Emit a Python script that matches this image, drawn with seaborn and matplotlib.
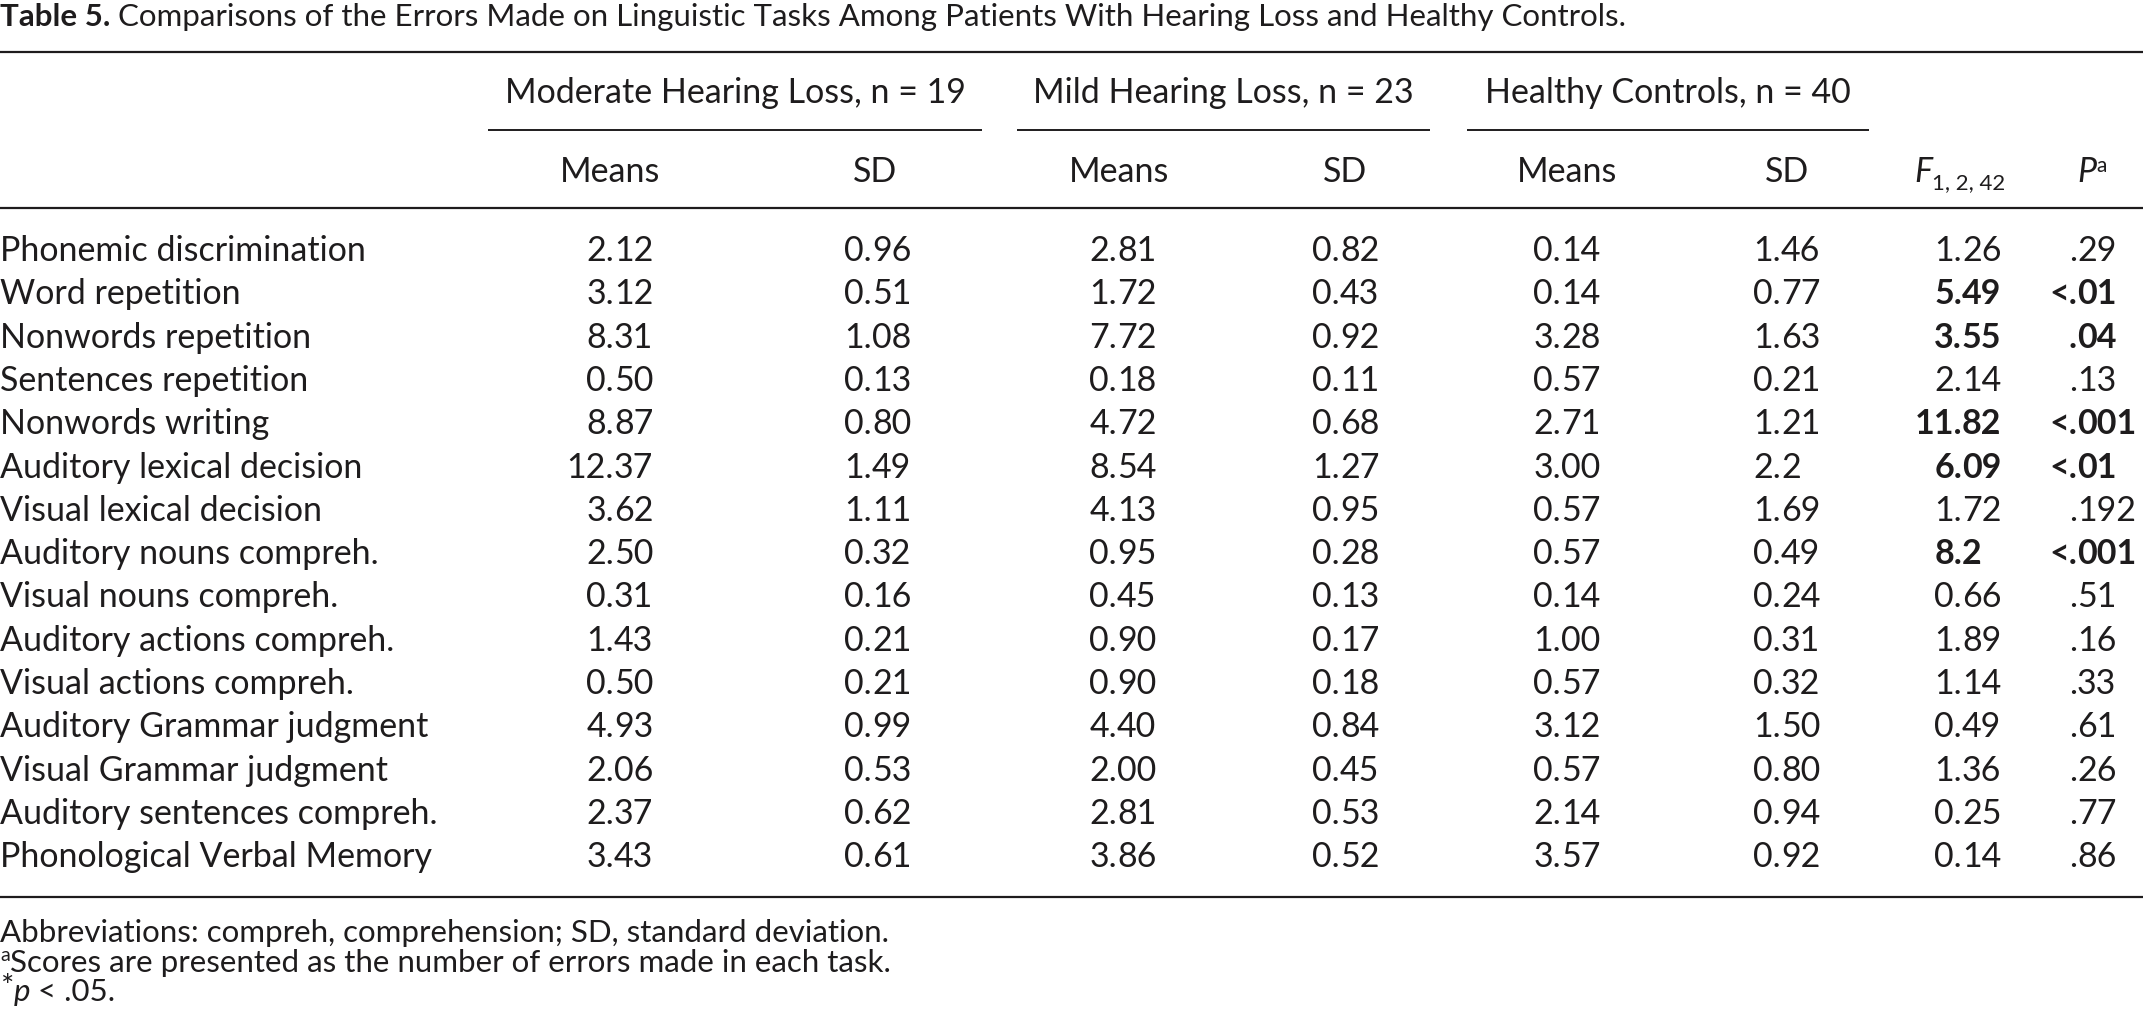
import matplotlib
matplotlib.use("Agg")
import matplotlib.pyplot as plt
import seaborn as sns

# table content
tasks = ["Phonemic discrimination", "Word repetition", "Nonwords repetition",
         "Sentences repetition", "Nonwords writing", "Auditory lexical decision",
         "Visual lexical decision", "Auditory nouns compreh.", "Visual nouns compreh.",
         "Auditory actions compreh.", "Visual actions compreh.",
         "Auditory Grammar judgment", "Visual Grammar judgment",
         "Auditory sentences compreh.", "Phonological Verbal Memory"]
mod_means = ["2.12", "3.12", "8.31", "0.50", "8.87", "12.37", "3.62", "2.50", "0.31",
             "1.43", "0.50", "4.93", "2.06", "2.37", "3.43"]
mod_sd = ["0.96", "0.51", "1.08", "0.13", "0.80", "1.49", "1.11", "0.32", "0.16",
          "0.21", "0.21", "0.99", "0.53", "0.62", "0.61"]
mild_means = ["2.81", "1.72", "7.72", "0.18", "4.72", "8.54", "4.13", "0.95", "0.45",
              "0.90", "0.90", "4.40", "2.00", "2.81", "3.86"]
mild_sd = ["0.82", "0.43", "0.92", "0.11", "0.68", "1.27", "0.95", "0.28", "0.13",
           "0.17", "0.18", "0.84", "0.45", "0.53", "0.52"]
hc_means = ["0.14", "0.14", "3.28", "0.57", "2.71", "3.00", "0.57", "0.57", "0.14",
            "1.00", "0.57", "3.12", "0.57", "2.14", "3.57"]
hc_sd = ["1.46", "0.77", "1.63", "0.21", "1.21", "2.2", "1.69", "0.49", "0.24",
         "0.31", "0.32", "1.50", "0.80", "0.94", "0.92"]
f_vals = ["1.26", "5.49", "3.55", "2.14", "11.82", "6.09", "1.72", "8.2", "0.66",
          "1.89", "1.14", "0.49", "1.36", "0.25", "0.14"]
p_vals = [".29", "<.01", ".04", ".13", "<.001", "<.01", ".192", "<.001", ".51",
          ".16", ".33", ".61", ".26", ".77", ".86"]
significant = [False, True, True, False, True, True, False, True, False,
               False, False, False, False, False, False]
groups = ["Moderate Hearing Loss, n = 19", "Mild Hearing Loss, n = 23",
          "Healthy Controls, n = 40"]

W, H = 2143, 1032
FONT = "Lato"
FS = 24.5   # body
TS = 22.5   # title
FN = 22.5   # footnotes
INK = "#1e1c1d"

sns.set_theme(style="white")
plt.rcParams["font.family"] = [FONT, "DejaVu Sans"]

fig = plt.figure(figsize=(W / 100, H / 100), dpi=100)
ax = fig.add_axes([0, 0, 1, 1])
ax.set_xlim(0, W)
ax.set_ylim(H, 0)
ax.axis("off")
renderer = fig.canvas.get_renderer()


def width_of(t):
    return t.get_window_extent(renderer=renderer).width


def runs(x, y, parts, ha="left"):
    # parts: (text, size, weight, style, dy)
    objs = []
    for txt, size, weight, style, dy in parts:
        t = ax.text(0, y + dy, txt, fontsize=size, fontweight=weight, fontstyle=style,
                    color=INK, va="baseline", ha="left")
        objs.append(t)
    total = sum(width_of(t) for t in objs)
    cx = x - total / 2 if ha == "center" else x
    for t in objs:
        t.set_x(cx)
        cx += width_of(t)


def decimal(x, y, s, bold=False):
    w = "bold" if bold else "normal"
    i = s.index(".")
    ax.text(x + 4, y, s[:i + 1], fontsize=FS, fontweight=w, color=INK, va="baseline", ha="right")
    ax.text(x + 4, y, s[i + 1:], fontsize=FS, fontweight=w, color=INK, va="baseline", ha="left")


# title
runs(0, 26, [("Table 5.", TS, "bold", "normal", 0),
             (" Comparisons of the Errors Made on Linguistic Tasks Among Patients With Hearing Loss and Healthy Controls.",
              TS, "normal", "normal", 0)])

# rules
for yy in (52, 208, 897):
    ax.plot([0, W], [yy, yy], color=INK, lw=1.6, solid_capstyle="butt")

# group headers
spans = [(488, 982), (1017, 1430), (1467, 1869)]
for g, (a, b) in zip(groups, spans):
    ax.text((a + b) / 2, 103, g, fontsize=FS, color=INK, ha="center", va="baseline")
    ax.plot([a, b], [130, 130], color=INK, lw=1.4, solid_capstyle="butt")

# sub headers
for cx in (610, 1119, 1567):
    ax.text(cx, 182, "Means", fontsize=FS, color=INK, ha="center", va="baseline")
for cx in (875, 1345, 1787):
    ax.text(cx, 182, "SD", fontsize=FS, color=INK, ha="center", va="baseline")
runs(1960, 182, [("F", FS, "normal", "italic", 0), ("1, 2, 42", 16, "normal", "normal", 7)], ha="center")
runs(2092, 182, [("P", FS, "normal", "italic", 0), ("a", 15, "normal", "normal", -10)], ha="center")

# body
dec_x = [610, 868, 1113, 1336, 1557, 1777, 1958, 2073]
cols = [mod_means, mod_sd, mild_means, mild_sd, hc_means, hc_sd, f_vals, p_vals]
for i, task in enumerate(tasks):
    y = 261 + 43.3 * i
    ax.text(0, y, task, fontsize=FS, color=INK, ha="left", va="baseline")
    for j, (dx, col) in enumerate(zip(dec_x, cols)):
        decimal(dx, y, col[i], bold=(significant[i] and j >= 6))

# footnotes
runs(0, 942, [("Abbreviations: compreh, comprehension; SD, standard deviation.", FN, "normal", "normal", 0)])
runs(0, 972, [("a", 14, "normal", "normal", -11),
              ("Scores are presented as the number of errors made in each task.", FN, "normal", "normal", 0)])
runs(0, 1001, [("*", FN, "normal", "normal", -5), ("p", FN, "normal", "italic", 0),
               (" < .05.", FN, "normal", "normal", 0)])

fig.savefig("out.png", dpi=100, facecolor="white")
